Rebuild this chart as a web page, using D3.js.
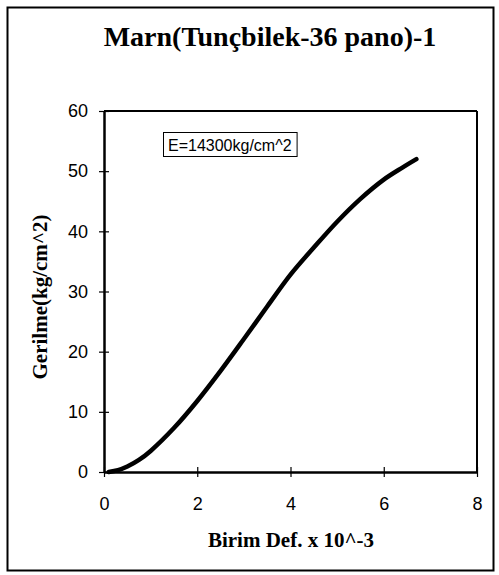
<!DOCTYPE html>
<html><head><meta charset="utf-8">
<script src="https://cdn.jsdelivr.net/npm/d3@7"></script>
<style>body{margin:0;background:#fff}svg{display:block}</style>
</head><body><svg id="c" width="499" height="575"></svg>
<script>
const title = "Marn(Tunçbilek-36 pano)-1";
const xTitle = "Birim Def. x 10^-3";
const yTitle = "Gerilme(kg/cm^2)";
const legendText = "E=14300kg/cm^2";
const xTicks = [0, 2, 4, 6, 8];
const yTicks = [0, 10, 20, 30, 40, 50, 60];
const strain = [0.1, 0.3, 0.5, 0.75, 1.0, 1.5, 2.0, 2.5, 3.0, 3.5, 4.0, 4.5, 5.0, 5.5, 6.0, 6.4, 6.7];
const stress = [0, 0.3, 0.9, 2.0, 3.5, 7.3, 11.8, 16.8, 22.1, 27.5, 32.8, 37.3, 41.6, 45.4, 48.6, 50.6, 52.0];

const svg = d3.select("#c");
const L = 104, R = 477, T = 111, B = 472;
const x = d3.scaleLinear().domain([0, 8]).range([L, R]);
const y = d3.scaleLinear().domain([0, 60]).range([B, T]);

// outer border
svg.append("rect").attr("x", 7.5).attr("y", 7.5).attr("width", 486).attr("height", 563)
  .attr("fill", "none").attr("stroke", "#000").attr("stroke-width", 2);

// title
svg.append("text").attr("x", 270).attr("y", 46).attr("text-anchor", "middle")
  .attr("font-family", "Liberation Serif, Times New Roman, serif").attr("font-weight", "bold")
  .attr("font-size", 28).text(title);

// plot frame top/right
svg.append("line").attr("x1", L).attr("x2", R).attr("y1", T).attr("y2", T).attr("stroke", "#000").attr("stroke-width", 2);
svg.append("line").attr("x1", R).attr("x2", R).attr("y1", T).attr("y2", B).attr("stroke", "#000").attr("stroke-width", 2);

// axes
const xAxis = d3.axisBottom(x).tickValues(xTicks).tickSize(0).tickPadding(25).tickFormat(d3.format("d"));
const yAxis = d3.axisLeft(y).tickValues(yTicks).tickSize(0).tickPadding(16).tickFormat(d3.format("d"));
const gx = svg.append("g").attr("transform", `translate(0,${B})`).call(xAxis);
const gy = svg.append("g").attr("transform", `translate(${L},0)`).call(yAxis);
[gx, gy].forEach(g => {
  g.select(".domain").attr("stroke", "#000").attr("stroke-width", 2.5);
  g.selectAll("text").attr("font-family", "Liberation Sans, Arial, sans-serif").attr("font-size", 18).attr("fill", "#000");
});
gx.selectAll(".tick line").attr("y1", -5).attr("y2", 5).attr("stroke", "#000").attr("stroke-width", 1.2);
gy.selectAll(".tick line").attr("x1", -5).attr("x2", 5).attr("stroke", "#000").attr("stroke-width", 1.2);

// axis titles
svg.append("text").attr("x", 291).attr("y", 547).attr("text-anchor", "middle")
  .attr("font-family", "Liberation Serif, Times New Roman, serif").attr("font-weight", "bold")
  .attr("font-size", 21).text(xTitle);
svg.append("text").attr("transform", "translate(47,297) rotate(-90)").attr("text-anchor", "middle")
  .attr("font-family", "Liberation Serif, Times New Roman, serif").attr("font-weight", "bold")
  .attr("font-size", 21).text(yTitle);

// legend box
const lg = svg.append("g");
const lt = lg.append("text").attr("x", 168).attr("y", 151)
  .attr("font-family", "Liberation Sans, Arial, sans-serif").attr("font-size", 16).attr("fill", "#000").text(legendText);
const w = lt.node().getComputedTextLength();
lg.insert("rect", "text").attr("x", 163.5).attr("y", 132.5).attr("width", w + 10).attr("height", 24)
  .attr("fill", "#fff").attr("stroke", "#000").attr("stroke-width", 1);

// curve
const pts = strain.map((d, i) => [d, stress[i]]);
svg.append("path").datum(pts)
  .attr("d", d3.line().x(d => x(d[0])).y(d => y(d[1])).curve(d3.curveCatmullRom))
  .attr("fill", "none").attr("stroke", "#000").attr("stroke-width", 4.5).attr("stroke-linecap", "round");
</script></body></html>
